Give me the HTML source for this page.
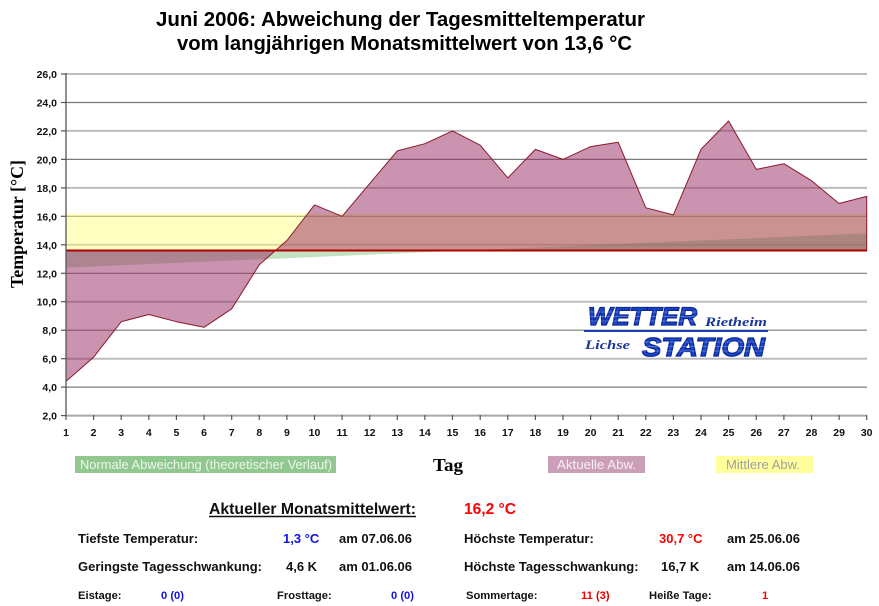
<!DOCTYPE html>
<html><head><meta charset="utf-8"><style>
html,body{margin:0;padding:0;background:#fff;}
svg{display:block;}
</style></head><body>
<svg width="879" height="606" viewBox="0 0 879 606" xmlns="http://www.w3.org/2000/svg">
<rect width="879" height="606" fill="#fff"/>
<!-- Title -->
<g font-family="Liberation Sans, Arial, sans-serif" font-weight="bold" font-size="20.5" fill="#000">
<text x="156" y="26" textLength="489" lengthAdjust="spacingAndGlyphs">Juni 2006: Abweichung der Tagesmitteltemperatur</text>
<text x="177" y="50" textLength="455" lengthAdjust="spacingAndGlyphs">vom langjährigen Monatsmittelwert von 13,6 °C</text>
</g>
<!-- gridlines -->
<g>
<line x1="66" x2="867" y1="74" y2="74" stroke="#bdbdbd" stroke-width="2"/>
<line x1="66" x2="867" y1="102.5" y2="102.5" stroke="#7a7a7a" stroke-width="1.2"/>
<line x1="66" x2="867" y1="130.9" y2="130.9" stroke="#bdbdbd" stroke-width="2"/>
<line x1="66" x2="867" y1="159.4" y2="159.4" stroke="#7a7a7a" stroke-width="1.2"/>
<line x1="66" x2="867" y1="187.9" y2="187.9" stroke="#bdbdbd" stroke-width="2"/>
<line x1="66" x2="867" y1="216.3" y2="216.3" stroke="#7a7a7a" stroke-width="1.2"/>
<line x1="66" x2="867" y1="244.8" y2="244.8" stroke="#bdbdbd" stroke-width="2"/>
<line x1="66" x2="867" y1="273.3" y2="273.3" stroke="#7a7a7a" stroke-width="1.2"/>
<line x1="66" x2="867" y1="301.7" y2="301.7" stroke="#bdbdbd" stroke-width="2"/>
<line x1="66" x2="867" y1="330.2" y2="330.2" stroke="#7a7a7a" stroke-width="1.2"/>
<line x1="66" x2="867" y1="358.7" y2="358.7" stroke="#bdbdbd" stroke-width="2"/>
<line x1="66" x2="867" y1="387.1" y2="387.1" stroke="#7a7a7a" stroke-width="1.2"/>
</g>
<!-- yellow band 13.6 - 16.2 -->
<rect x="66" y="213.5" width="800.7" height="37" fill="rgba(255,255,110,0.42)"/>
<!-- green wedge (normal deviation) -->
<polygon points="66,250.5 66,267.6 866.7,233.4 866.7,250.5" fill="rgba(110,185,110,0.42)"/>
<!-- actual deviation -->
<polygon fill="rgba(150,40,95,0.5)" stroke="#8b1a2a" stroke-width="1" stroke-linejoin="round"
points="66,381.4 93.6,357.2 121.2,321.7 148.8,314.5 176.4,321.7 204.1,327.3 231.7,308.8 259.3,264.7 286.9,240.5 314.5,204.9 342.1,216.3 369.7,183.6 397.3,150.9 424.9,143.7 452.5,130.9 480.2,145.2 507.8,177.9 535.4,149.4 563,159.4 590.6,146.6 618.2,142.3 645.8,207.8 673.4,214.9 701,149.4 728.6,121 756.3,169.4 783.9,163.7 811.5,180.7 839.1,203.5 866.7,196.4 866.7,250.5 66,250.5"/>
<!-- baseline 13.6 -->
<line x1="66" x2="867" y1="250.5" y2="250.5" stroke="#b00000" stroke-width="2"/>
<!-- axes -->
<line x1="66" x2="867" y1="415.6" y2="415.6" stroke="#a8a8a8" stroke-width="2"/>
<line x1="66" x2="66" y1="73" y2="416" stroke="#555" stroke-width="1.3"/>
<g stroke="#555" stroke-width="1.2">
<line x1="61" x2="66" y1="74" y2="74"/><line x1="61" x2="66" y1="102.5" y2="102.5"/><line x1="61" x2="66" y1="130.9" y2="130.9"/><line x1="61" x2="66" y1="159.4" y2="159.4"/><line x1="61" x2="66" y1="187.9" y2="187.9"/><line x1="61" x2="66" y1="216.3" y2="216.3"/><line x1="61" x2="66" y1="244.8" y2="244.8"/><line x1="61" x2="66" y1="273.3" y2="273.3"/><line x1="61" x2="66" y1="301.7" y2="301.7"/><line x1="61" x2="66" y1="330.2" y2="330.2"/><line x1="61" x2="66" y1="358.7" y2="358.7"/><line x1="61" x2="66" y1="387.1" y2="387.1"/><line x1="61" x2="66" y1="415.6" y2="415.6"/>
<line x1="66" x2="66" y1="415" y2="420"/><line x1="93.6" x2="93.6" y1="415" y2="420"/><line x1="121.2" x2="121.2" y1="415" y2="420"/><line x1="148.8" x2="148.8" y1="415" y2="420"/><line x1="176.4" x2="176.4" y1="415" y2="420"/><line x1="204.1" x2="204.1" y1="415" y2="420"/><line x1="231.7" x2="231.7" y1="415" y2="420"/><line x1="259.3" x2="259.3" y1="415" y2="420"/><line x1="286.9" x2="286.9" y1="415" y2="420"/><line x1="314.5" x2="314.5" y1="415" y2="420"/><line x1="342.1" x2="342.1" y1="415" y2="420"/><line x1="369.7" x2="369.7" y1="415" y2="420"/><line x1="397.3" x2="397.3" y1="415" y2="420"/><line x1="424.9" x2="424.9" y1="415" y2="420"/><line x1="452.5" x2="452.5" y1="415" y2="420"/><line x1="480.2" x2="480.2" y1="415" y2="420"/><line x1="507.8" x2="507.8" y1="415" y2="420"/><line x1="535.4" x2="535.4" y1="415" y2="420"/><line x1="563" x2="563" y1="415" y2="420"/><line x1="590.6" x2="590.6" y1="415" y2="420"/><line x1="618.2" x2="618.2" y1="415" y2="420"/><line x1="645.8" x2="645.8" y1="415" y2="420"/><line x1="673.4" x2="673.4" y1="415" y2="420"/><line x1="701" x2="701" y1="415" y2="420"/><line x1="728.6" x2="728.6" y1="415" y2="420"/><line x1="756.3" x2="756.3" y1="415" y2="420"/><line x1="783.9" x2="783.9" y1="415" y2="420"/><line x1="811.5" x2="811.5" y1="415" y2="420"/><line x1="839.1" x2="839.1" y1="415" y2="420"/><line x1="866.7" x2="866.7" y1="415" y2="420"/>
</g>
<!-- y tick labels -->
<g font-family="Liberation Sans, Arial, sans-serif" font-weight="bold" font-size="10.5" fill="#111" text-anchor="end">
<text x="57" y="78">26,0</text><text x="57" y="106.5">24,0</text><text x="57" y="134.9">22,0</text><text x="57" y="163.4">20,0</text><text x="57" y="191.9">18,0</text><text x="57" y="220.3">16,0</text><text x="57" y="248.8">14,0</text><text x="57" y="277.3">12,0</text><text x="57" y="305.7">10,0</text><text x="57" y="334.2">8,0</text><text x="57" y="362.7">6,0</text><text x="57" y="391.1">4,0</text><text x="57" y="419.6">2,0</text>
</g>
<!-- x tick labels -->
<g font-family="Liberation Sans, Arial, sans-serif" font-weight="bold" font-size="10.5" fill="#111" text-anchor="middle">
<text x="66" y="436">1</text><text x="93.6" y="436">2</text><text x="121.2" y="436">3</text><text x="148.8" y="436">4</text><text x="176.4" y="436">5</text><text x="204.1" y="436">6</text><text x="231.7" y="436">7</text><text x="259.3" y="436">8</text><text x="286.9" y="436">9</text><text x="314.5" y="436">10</text><text x="342.1" y="436">11</text><text x="369.7" y="436">12</text><text x="397.3" y="436">13</text><text x="424.9" y="436">14</text><text x="452.5" y="436">15</text><text x="480.2" y="436">16</text><text x="507.8" y="436">17</text><text x="535.4" y="436">18</text><text x="563" y="436">19</text><text x="590.6" y="436">20</text><text x="618.2" y="436">21</text><text x="645.8" y="436">22</text><text x="673.4" y="436">23</text><text x="701" y="436">24</text><text x="728.6" y="436">25</text><text x="756.3" y="436">26</text><text x="783.9" y="436">27</text><text x="811.5" y="436">28</text><text x="839.1" y="436">29</text><text x="866.7" y="436">30</text>
</g>
<!-- axis titles -->
<text transform="translate(23,224) rotate(-90)" text-anchor="middle" font-family="Liberation Serif, Times New Roman, serif" font-weight="bold" font-size="18" fill="#000" textLength="128" lengthAdjust="spacingAndGlyphs">Temperatur [°C]</text>
<text x="433" y="471" font-family="Liberation Serif, Times New Roman, serif" font-weight="bold" font-size="18" fill="#000" textLength="30" lengthAdjust="spacingAndGlyphs">Tag</text>
<!-- logo -->
<g>
<text x="588" y="325" font-family="Liberation Sans, Arial, sans-serif" font-weight="bold" font-style="italic" font-size="25" fill="#1c48cc" stroke="#0c2a96" stroke-width="1.3" textLength="109" lengthAdjust="spacingAndGlyphs">WETTER</text>
<text x="705" y="326" font-family="Liberation Serif, Times New Roman, serif" font-weight="bold" font-style="italic" font-size="13" fill="#1a379c" textLength="62" lengthAdjust="spacingAndGlyphs">Rietheim</text>
<line x1="584" x2="768" y1="331" y2="331" stroke="#1a3fb8" stroke-width="2"/>
<text x="585" y="349" font-family="Liberation Serif, Times New Roman, serif" font-weight="bold" font-style="italic" font-size="13" fill="#1a379c" textLength="45" lengthAdjust="spacingAndGlyphs">Lichse</text>
<text x="642" y="356" font-family="Liberation Sans, Arial, sans-serif" font-weight="bold" font-style="italic" font-size="26" fill="#1c48cc" stroke="#0c2a96" stroke-width="1.3" textLength="123" lengthAdjust="spacingAndGlyphs">STATION</text>
<g stroke="rgba(255,255,255,0.35)" stroke-width="0.7">
<line x1="586" x2="698" y1="312" y2="312"/><line x1="586" x2="698" y1="316.5" y2="316.5"/><line x1="586" x2="698" y1="321" y2="321"/>
<line x1="640" x2="766" y1="342" y2="342"/><line x1="640" x2="766" y1="346.5" y2="346.5"/><line x1="640" x2="766" y1="351" y2="351"/>
</g>
</g>
<!-- legend -->
<rect x="75" y="456" width="261" height="17" fill="#90c890"/>
<text x="80" y="469" font-family="Liberation Sans, Arial, sans-serif" font-size="13" fill="#eef6ee" textLength="252" lengthAdjust="spacingAndGlyphs">Normale Abweichung (theoretischer Verlauf)</text>
<rect x="548" y="456" width="97" height="17" fill="#cc9fb9"/>
<text x="557" y="469" font-family="Liberation Sans, Arial, sans-serif" font-size="13" fill="#f8f0f4" textLength="79" lengthAdjust="spacingAndGlyphs">Aktuelle Abw.</text>
<rect x="716" y="456" width="97" height="17" fill="#ffff9c"/>
<text x="726" y="469" font-family="Liberation Sans, Arial, sans-serif" font-size="13" fill="#a0a0a0" textLength="74" lengthAdjust="spacingAndGlyphs">Mittlere Abw.</text>
<!-- stats -->
<g font-family="Liberation Sans, Arial, sans-serif" font-weight="bold">
<text x="209" y="514" font-size="16" fill="#111" textLength="207" lengthAdjust="spacingAndGlyphs">Aktueller Monatsmittelwert:</text>
<line x1="209" x2="416" y1="516.5" y2="516.5" stroke="#111" stroke-width="1.5"/>
<text x="464" y="514" font-size="16" fill="#ff0000" textLength="52" lengthAdjust="spacingAndGlyphs">16,2 °C</text>

<g font-size="13" fill="#111">
<text x="78" y="543">Tiefste Temperatur:</text>
<text x="283" y="543" fill="#1010ee">1,3 °C</text>
<text x="339" y="543">am 07.06.06</text>
<text x="464" y="543">Höchste Temperatur:</text>
<text x="659" y="543" fill="#ff0000">30,7 °C</text>
<text x="727" y="543">am 25.06.06</text>

<text x="78" y="571">Geringste Tagesschwankung:</text>
<text x="286" y="571">4,6 K</text>
<text x="339" y="571">am 01.06.06</text>
<text x="464" y="571">Höchste Tagesschwankung:</text>
<text x="661" y="571">16,7 K</text>
<text x="727" y="571">am 14.06.06</text>
</g>
<g font-size="11.2" fill="#111">
<text x="78" y="599">Eistage:</text>
<text x="161" y="599" fill="#1010ee">0 (0)</text>
<text x="277" y="599">Frosttage:</text>
<text x="391" y="599" fill="#1010ee">0 (0)</text>
<text x="466" y="599">Sommertage:</text>
<text x="581" y="599" fill="#ff0000">11 <tspan fill="#dd0000">(3)</tspan></text>
<text x="649" y="599">Heiße Tage:</text>
<text x="762" y="599" fill="#ff0000">1</text>
</g>
</g>
</svg>
</body></html>
